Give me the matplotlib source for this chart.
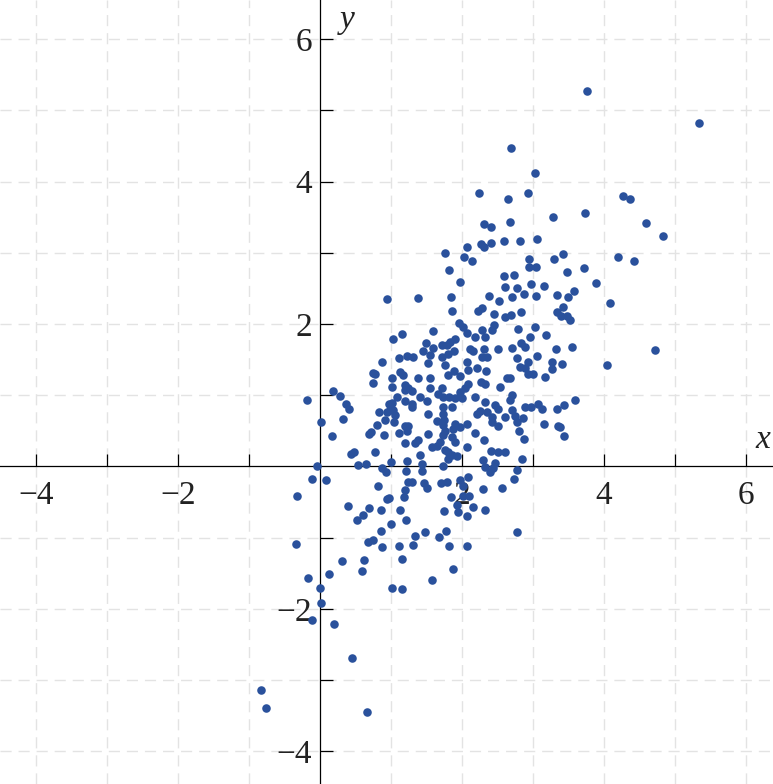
import numpy as np
import matplotlib
matplotlib.use("Agg")
import matplotlib.pyplot as plt
from matplotlib.ticker import FixedLocator, NullFormatter

# sample values
xs = [3.76, 5.34, 2.69, 3.03, 2.24, 2.65, 2.93, 3.28, 3.73, 4.27, 4.37, 4.59, 2.31, 2.41, 2.68, 4.83,
      3.42, 4.20, 4.42, 3.48, 3.72, 3.89, 3.58, 3.49, 4.08, 3.42, 3.39, 3.48, 3.52, 3.55, 4.72, 3.41,
      4.04, 3.59, 3.44, 3.38, 3.44, 2.82, 3.06, 2.94, 3.30, 2.94, 3.04, 2.73, 2.97, 3.15, 2.77, 2.87,
      2.70, 3.04, 3.34, 2.83, 3.34, 2.69, 3.03, 2.79, 2.96, 3.18, 2.83, 2.89, 3.32, 2.70, 3.06, 2.77,
      2.93, 3.27, 2.82, 2.89, 3.27, 2.93, 3.00, 3.17, 2.68, 2.70, 2.68, 2.89, 2.97, 3.07, 3.13, 3.34,
      2.70, 2.75, 2.86, 2.77, 3.15, 3.35, 2.80, 2.87, 2.85, 2.77, 2.73, 2.77, 2.07, 2.27, 2.31, 2.41,
      2.59, 1.76, 2.03, 2.14, 1.82, 1.97, 2.59, 2.61, 1.38, 1.85, 2.38, 2.52, 1.86, 2.23, 2.28, 2.45,
      2.61, 1.96, 2.01, 2.45, 2.28, 2.32, 1.59, 2.07, 2.18, 1.90, 1.83, 1.49, 1.72, 1.79, 1.45, 1.59,
      2.11, 2.15, 2.31, 2.51, 1.80, 1.89, 1.72, 1.31, 1.55, 2.28, 2.35, 2.42, 0.94, 1.03, 1.15, 1.23,
      1.11, 0.87, 0.75, 0.77, 1.13, 1.17, 1.01, 0.75, 1.01, 1.20, 0.18, -0.18, 0.28, 1.08, 1.20, 1.20,
      0.37, 0.41, 0.97, 1.01, 0.99, 1.03, 0.83, 0.94, 1.06, 0.32, 0.92, 1.04, 0.01, 0.80, 1.20, 1.24,
      0.72, 0.69, 0.90, 1.11, 1.23, 0.17, 1.20, 0.44, 0.48, 0.77, 1.00, 1.23, 0.54, 0.65, -0.04, 0.87,
      1.52, 1.76, 2.07, 2.21, 2.34, 1.89, 1.80, 1.97, 2.08, 1.38, 1.55, 2.27, 2.32, 2.63, 1.24, 1.55,
      2.08, 2.04, 1.72, 2.54, 1.30, 1.41, 1.66, 1.73, 1.82, 1.90, 2.00, 1.97, 2.18, 1.51, 1.30, 2.32,
      1.30, 1.73, 1.86, 2.46, 2.51, 2.25, 2.21, 2.35, 1.52, 1.73, 2.42, 2.61, 1.65, 1.75, 2.42, 1.73,
      1.90, 1.97, 2.07, 2.51, 1.76, 1.87, 2.18, 1.52, 1.38, 1.73, 1.86, 1.69, 1.65, 1.90, 2.31, 1.34,
      1.58, 2.07, 1.76, 1.80, 1.86, 1.93, 2.41, 2.51, 2.61, 1.41, 1.80, 2.30, 2.46, 2.32, 1.44, 1.73,
      2.44, 0.93, 1.21, -0.11, 0.08, 0.82, 1.24, -0.32, 1.20, 1.18, 0.94, 0.97, 0.39, 0.69, 0.86, 1.13,
      0.61, 0.52, 1.21, 1.00, 0.86, -0.34, 0.68, 0.75, 0.87, 1.11, 1.15, 0.31, 0.62, 0.59, 0.13, -0.17,
      0.00, 1.01, 1.15, 0.01, 1.44, 2.39, 1.30, 1.46, 1.51, 1.70, 1.79, 2.08, 1.97, 2.01, 2.30, 2.56,
      1.85, 2.01, 2.10, 1.93, 2.15, 2.32, 1.75, 1.94, 2.07, 1.48, 1.77, 1.34, 1.68, 1.31, 1.82, 2.07,
      1.87, 1.58, -0.11, 0.20, 0.45, -0.83, -0.76, 0.66]
ys = [5.27, 4.82, 4.47, 4.12, 3.84, 3.76, 3.84, 3.50, 3.56, 3.80, 3.76, 3.42, 3.41, 3.36, 3.43, 3.24,
      2.98, 2.94, 2.89, 2.73, 2.79, 2.58, 2.46, 2.38, 2.30, 2.24, 2.11, 2.11, 2.06, 1.68, 1.64, 1.44,
      1.43, 0.93, 0.86, 0.55, 0.43, 3.17, 3.20, 2.91, 2.91, 2.80, 2.80, 2.69, 2.56, 2.54, 2.51, 2.42,
      2.38, 2.39, 2.41, 2.17, 2.17, 2.13, 1.96, 1.93, 1.82, 1.85, 1.73, 1.68, 1.65, 1.66, 1.55, 1.52,
      1.47, 1.47, 1.40, 1.38, 1.37, 1.30, 1.30, 1.26, 1.24, 1.00, 0.93, 0.84, 0.84, 0.88, 0.81, 0.81,
      0.79, 0.71, 0.68, 0.63, 0.60, 0.57, 0.50, 0.39, 0.11, -0.05, -0.18, -0.92, 3.08, 3.13, 3.08, 3.14,
      3.17, 3.00, 2.94, 2.89, 2.76, 2.59, 2.68, 2.52, 2.37, 2.38, 2.39, 2.32, 2.18, 2.18, 2.23, 2.14,
      2.10, 2.02, 1.96, 1.99, 1.92, 1.82, 1.90, 1.88, 1.82, 1.79, 1.75, 1.73, 1.71, 1.71, 1.62, 1.66,
      1.65, 1.62, 1.65, 1.65, 1.58, 1.62, 1.54, 1.54, 1.57, 1.54, 1.54, 1.92, 2.35, 1.79, 1.86, 1.55,
      1.52, 1.47, 1.31, 1.30, 1.33, 1.29, 1.24, 1.17, 1.12, 1.14, 1.06, 0.93, 0.99, 0.98, 1.07, 0.92,
      0.88, 0.81, 0.88, 0.89, 0.79, 0.79, 0.77, 0.77, 0.72, 0.67, 0.65, 0.63, 0.63, 0.58, 0.57, 0.57,
      0.48, 0.46, 0.44, 0.47, 0.50, 0.43, 0.33, 0.18, 0.20, 0.20, 0.06, 0.08, 0.02, 0.04, 0.01, -0.02,
      1.45, 1.43, 1.47, 1.38, 1.34, 1.34, 1.29, 1.27, 1.36, 1.24, 1.24, 1.19, 1.16, 1.24, 1.10, 1.10,
      1.16, 1.10, 1.10, 1.12, 1.06, 0.98, 1.02, 0.98, 0.98, 0.96, 0.96, 1.05, 0.98, 0.92, 0.88, 0.91,
      0.84, 0.84, 0.84, 0.86, 0.81, 0.78, 0.74, 0.77, 0.74, 0.74, 0.70, 0.70, 0.64, 0.65, 0.63, 0.58,
      0.60, 0.55, 0.60, 0.57, 0.50, 0.53, 0.47, 0.46, 0.37, 0.44, 0.41, 0.34, 0.29, 0.34, 0.37, 0.33,
      0.27, 0.27, 0.23, 0.20, 0.16, 0.15, 0.22, 0.20, 0.20, 0.16, 0.11, 0.09, 0.05, -0.01, 0.04, 0.01,
      -0.02, -0.08, -0.06, -0.18, -0.19, -0.27, -0.22, -0.41, -0.33, -0.43, -0.46, -0.44, -0.55, -0.58, -0.61, -0.61,
      -0.68, -0.75, -0.75, -0.81, -0.91, -1.09, -1.06, -1.03, -1.13, -1.12, -1.30, -1.33, -1.31, -1.47, -1.51, -1.57,
      -1.71, -1.71, -1.72, -1.92, -0.06, -0.08, -0.22, -0.23, -0.30, -0.23, -0.22, -0.15, -0.19, -0.27, -0.32, -0.30,
      -0.43, -0.41, -0.41, -0.54, -0.57, -0.61, -0.63, -0.64, -0.70, -0.92, -0.91, -0.98, -0.99, -1.10, -1.12, -1.12,
      -1.44, -1.59, -2.16, -2.21, -2.69, -3.14, -3.39, -3.45]

major_ticks = [-4, -2, 2, 4, 6]
minor_ticks = [-3, -1, 1, 3, 5]
y_major = [-4, -2, 2, 4, 6]
y_minor = [-3, -1, 1, 3, 5]

fig = plt.figure(figsize=(7.73, 7.84), dpi=100)
ax = fig.add_axes([0, 0, 1, 1])

ax.scatter(xs, ys, s=38, color="#2a519c", linewidths=0, zorder=3)

ax.set_xlim(-4.51, 6.38)
ax.set_ylim(-4.46, 6.55)

# axes through the origin
ax.spines["left"].set_position(("data", 0))
ax.spines["bottom"].set_position(("data", 0))
ax.spines["right"].set_visible(False)
ax.spines["top"].set_visible(False)
for s in ["left", "bottom"]:
    ax.spines[s].set_linewidth(0.9)
    ax.spines[s].set_color("black")

ax.xaxis.set_major_locator(FixedLocator(major_ticks))
ax.xaxis.set_minor_locator(FixedLocator(minor_ticks))
ax.yaxis.set_major_locator(FixedLocator(y_major))
ax.yaxis.set_minor_locator(FixedLocator(y_minor))
ax.xaxis.set_minor_formatter(NullFormatter())
ax.yaxis.set_minor_formatter(NullFormatter())

ax.tick_params(which="both", direction="in", length=9, width=0.9, color="black")
ax.tick_params(axis="x", which="major", pad=10)
ax.tick_params(axis="y", which="major", pad=6)
for lab in ax.get_xticklabels() + ax.get_yticklabels():
    lab.set_family("Liberation Serif")
    lab.set_fontsize(24)
    lab.set_color("#222222")

ax.grid(which="both", color="#e3e3e3", linestyle=(0, (8, 5)), linewidth=1.0, zorder=0)
ax.set_axisbelow(True)

ax.text(6.24, 0.37, "x", family="Liberation Serif", style="italic", fontsize=24,
        ha="center", va="center", color="#222222")
ax.text(0.38, 6.27, "y", family="Liberation Serif", style="italic", fontsize=24,
        ha="center", va="center", color="#222222")

fig.savefig("out.png", dpi=100)
